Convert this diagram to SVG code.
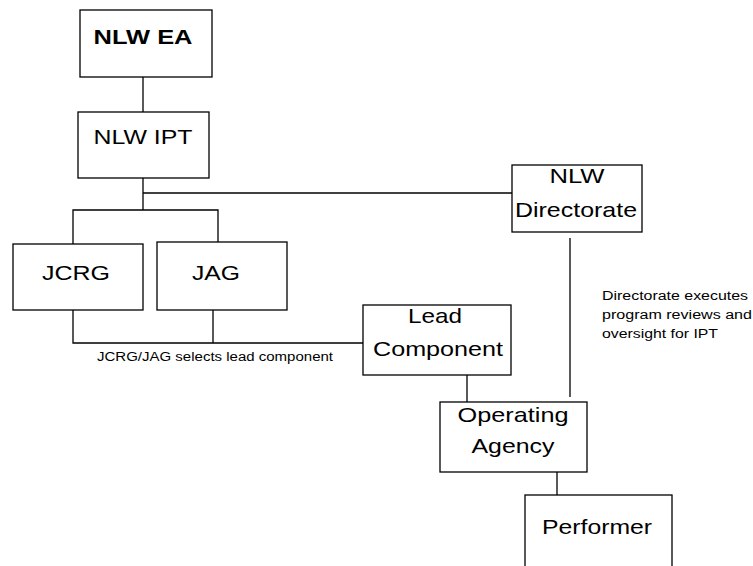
<svg xmlns="http://www.w3.org/2000/svg" width="753" height="566" viewBox="0 0 753 566">
<style>
.box{fill:#fff;stroke:#000;stroke-width:1.3}
.con line,.con polyline{fill:none;stroke:#000;stroke-width:1.3}
.t{font-family:"Liberation Sans",Arial,sans-serif;font-size:21px;fill:#000;text-anchor:middle}
.b{font-weight:bold}
.s{font-family:"Liberation Sans",Arial,sans-serif;font-size:12px;fill:#000}
</style>
<rect width="753" height="566" fill="#fff"/>
<g class="con" id="connectors">
<line x1="143" y1="77" x2="143" y2="112"/>
<line x1="143" y1="178" x2="143" y2="210"/>
<line x1="143" y1="193" x2="512" y2="193"/>
<polyline points="73,244 73,210 218,210 218,242"/>
<polyline points="73,310 73,343 363,343"/>
<line x1="213" y1="310" x2="213" y2="343"/>
<line x1="467" y1="375" x2="467" y2="402"/>
<line x1="570" y1="238" x2="570" y2="397"/>
<line x1="557" y1="472" x2="557" y2="495"/>
</g>
<g id="nlw-ea"><rect class="box" x="80" y="10" width="132" height="67"/><text class="t b" x="143" y="44" textLength="99" lengthAdjust="spacingAndGlyphs">NLW EA</text></g>
<g id="nlw-ipt"><rect class="box" x="78" y="112" width="131" height="66"/><text class="t" x="143" y="144" textLength="99" lengthAdjust="spacingAndGlyphs">NLW IPT</text></g>
<g id="jcrg"><rect class="box" x="13" y="244" width="130" height="66"/><text class="t" x="76" y="280" textLength="68" lengthAdjust="spacingAndGlyphs">JCRG</text></g>
<g id="jag"><rect class="box" x="157" y="242" width="130" height="68"/><text class="t" x="216" y="280" textLength="48" lengthAdjust="spacingAndGlyphs">JAG</text></g>
<g id="nlw-directorate"><rect class="box" x="512" y="165" width="130" height="67"/><text class="t" x="577" y="183" textLength="55" lengthAdjust="spacingAndGlyphs">NLW</text><text class="t" x="576" y="217" textLength="122" lengthAdjust="spacingAndGlyphs">Directorate</text></g>
<g id="lead-component"><rect class="box" x="363" y="305" width="148" height="70"/><text class="t" x="435" y="323" textLength="54" lengthAdjust="spacingAndGlyphs">Lead</text><text class="t" x="438" y="356" textLength="130" lengthAdjust="spacingAndGlyphs">Component</text></g>
<g id="operating-agency"><rect class="box" x="440" y="402" width="147" height="70"/><text class="t" x="513" y="422" textLength="111" lengthAdjust="spacingAndGlyphs">Operating</text><text class="t" x="513" y="453" textLength="83" lengthAdjust="spacingAndGlyphs">Agency</text></g>
<g id="performer"><rect class="box" x="525" y="495" width="147" height="80"/><text class="t" x="597" y="534" textLength="110" lengthAdjust="spacingAndGlyphs">Performer</text></g>
<g id="labels">
<text class="s" x="97" y="361" textLength="236" lengthAdjust="spacingAndGlyphs">JCRG/JAG selects lead component</text>
<text class="s" x="602" y="300" textLength="146" lengthAdjust="spacingAndGlyphs">Directorate executes</text>
<text class="s" x="602" y="319" textLength="150" lengthAdjust="spacingAndGlyphs">program reviews and</text>
<text class="s" x="602" y="338" textLength="116" lengthAdjust="spacingAndGlyphs">oversight for IPT</text>
</g>
</svg>
